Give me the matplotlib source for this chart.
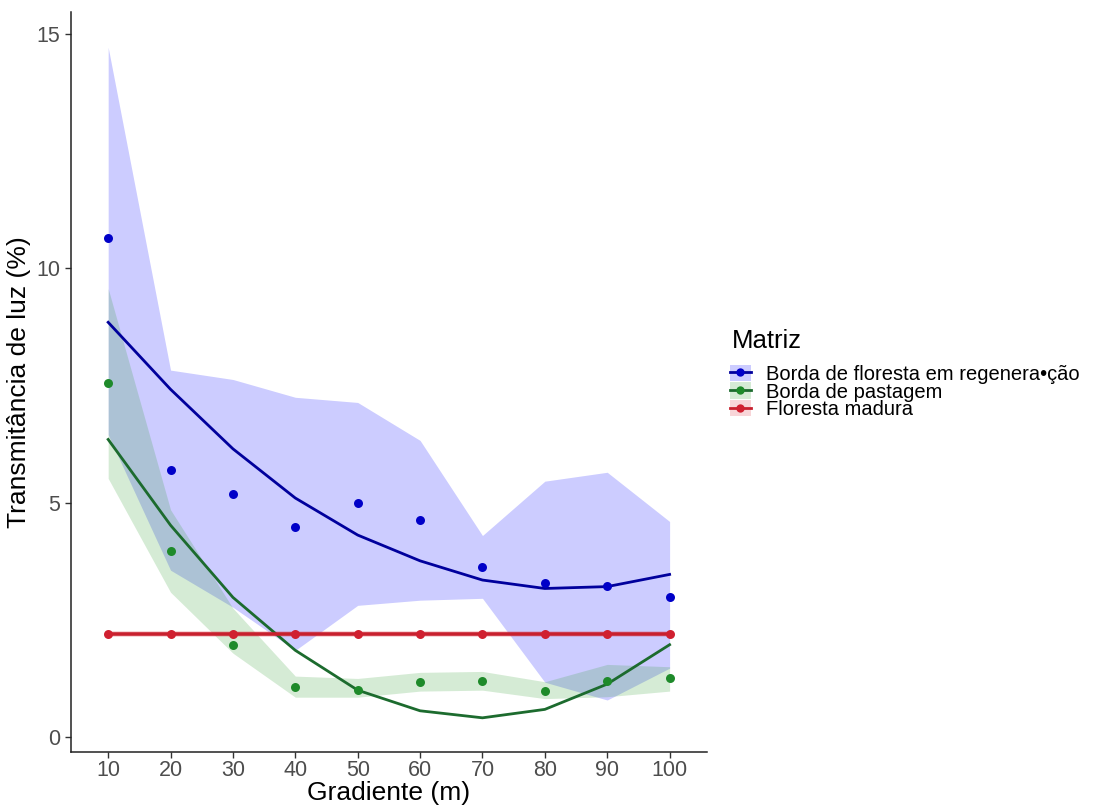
import matplotlib.pyplot as plt
from matplotlib.patches import Patch
from matplotlib.lines import Line2D

plt.rcParams['font.family'] = ['Liberation Sans', 'DejaVu Sans']

gradiente = [10, 20, 30, 40, 50, 60, 70, 80, 90, 100]
grupos = ['Borda de floresta em regenera\u2022\u00e7\u00e3o', 'Borda de pastagem', 'Floresta madura']

# observed means
regen_pts = [10.65, 5.7, 5.18, 4.48, 4.99, 4.63, 3.62, 3.28, 3.22, 2.98]
past_pts = [7.55, 3.97, 1.97, 1.07, 1.0, 1.18, 1.2, 0.99, 1.19, 1.26]
mad_pts = [2.2, 2.2, 2.2, 2.2, 2.2, 2.2, 2.2, 2.2, 2.2, 2.2]

# fitted curves
regen_fit = [8.85, 7.42, 6.15, 5.1, 4.31, 3.76, 3.35, 3.17, 3.21, 3.47]
past_fit = [6.35, 4.52, 2.98, 1.85, 1.0, 0.56, 0.41, 0.59, 1.13, 1.97]
mad_fit = [2.2, 2.2, 2.2, 2.2, 2.2, 2.2, 2.2, 2.2, 2.2, 2.2]

# ribbons
regen_lo = [6.45, 3.56, 2.77, 1.85, 2.81, 2.92, 2.96, 1.17, 0.79, 1.47]
regen_hi = [14.72, 7.83, 7.63, 7.25, 7.14, 6.33, 4.3, 5.46, 5.65, 4.6]
past_lo = [5.52, 3.09, 1.79, 0.85, 0.85, 0.98, 1.0, 0.82, 0.86, 0.98]
past_hi = [9.57, 4.85, 2.75, 1.3, 1.25, 1.38, 1.4, 1.18, 1.55, 1.5]
mad_lo = [2.14, 2.14, 2.14, 2.14, 2.14, 2.14, 2.14, 2.14, 2.14, 2.14]
mad_hi = [2.26, 2.26, 2.26, 2.26, 2.26, 2.26, 2.26, 2.26, 2.26, 2.26]

cores_linha = ['#00009C', '#1C6B2E', '#C8202E']
cores_ponto = ['#0000C8', '#1E8A2A', '#D02030']
cores_fill = ['#0000FF', '#2E9E2E', '#E03040']

fig = plt.figure(figsize=(11.07, 8.05), dpi=100)
ax = fig.add_axes([0.0639, 0.0658, 0.5748, 0.9192])

series = [
    (regen_pts, regen_fit, regen_lo, regen_hi),
    (past_pts, past_fit, past_lo, past_hi),
    (mad_pts, mad_fit, mad_lo, mad_hi),
]
for i, (pts, fit, lo, hi) in enumerate(series):
    ax.fill_between(gradiente, lo, hi, color=cores_fill[i], alpha=0.2, linewidth=0)
for i, (pts, fit, lo, hi) in enumerate(series):
    lw = 2.6 if i == 2 else 2.0
    ax.plot(gradiente, fit, color=cores_linha[i], linewidth=lw, zorder=3)
    ax.scatter(gradiente, pts, s=42, color=cores_ponto[i], zorder=4, linewidths=0)

ax.set_xlim(4, 106)
ax.set_ylim(-0.32, 15.47)
ax.set_xticks(gradiente)
ax.set_yticks([0, 5, 10, 15])
ax.tick_params(axis='both', labelsize=15.5, labelcolor='#4D4D4D', color='#333333',
               length=4, width=1)
ax.tick_params(axis='x', pad=2)
for s in ['top', 'right']:
    ax.spines[s].set_visible(False)
for s in ['left', 'bottom']:
    ax.spines[s].set_linewidth(1.1)
    ax.spines[s].set_color('#222222')

ax.set_xlabel('Gradiente (m)', fontsize=19, labelpad=0)
ax.set_ylabel('Transmit\u00e2ncia de luz (%)', fontsize=19, labelpad=4)

# legend
fig.text(0.661, 1 - 341 / 805, 'Matriz', fontsize=18.5, ha='left', va='center')
handles = []
for i in range(3):
    handles.append((Patch(facecolor=cores_fill[i], alpha=0.2, edgecolor='none'),
                    Line2D([], [], color=cores_linha[i], linewidth=2, marker='o',
                           markersize=6, markerfacecolor=cores_ponto[i],
                           markeredgewidth=0)))
leg = fig.legend(handles, grupos, loc='center left', bbox_to_anchor=(0.659, 1 - 392 / 805),
                 frameon=False, fontsize=14.5, handlelength=1.05, handleheight=0.85,
                 handletextpad=0.75, labelspacing=-0.06, borderpad=0, borderaxespad=0)

fig.savefig('out.png', dpi=100)
